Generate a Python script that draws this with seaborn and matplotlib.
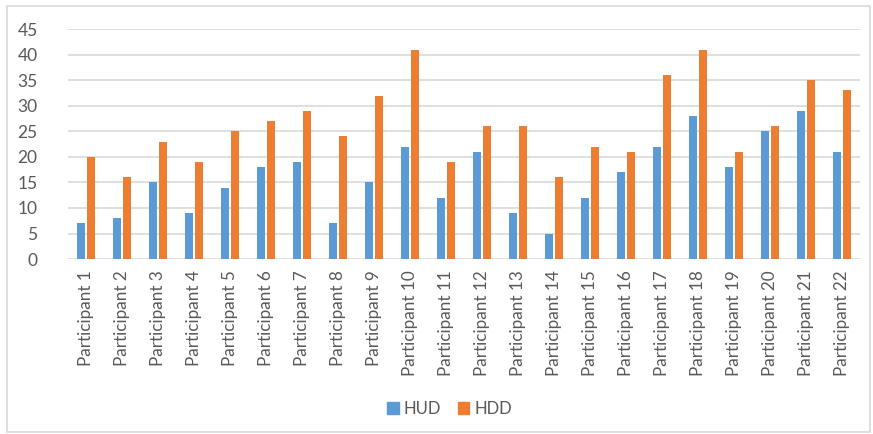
import matplotlib
matplotlib.use("Agg")
import matplotlib.pyplot as plt
import matplotlib.patches as mpatches
import seaborn as sns
import pandas as pd

participants = [f"Participant {i}" for i in range(1, 23)]
hud = [7, 8, 15, 9, 14, 18, 19, 7, 15, 22, 12, 21, 9, 5, 12, 17, 22, 28, 18, 25, 29, 21]
hdd = [20, 16, 23, 19, 25, 27, 29, 24, 32, 41, 19, 26, 26, 16, 22, 21, 36, 41, 21, 26, 35, 33]
series = ["HUD", "HDD"]
colors = {"HUD": "#5B9BD5", "HDD": "#ED7D31"}
y_ticks = list(range(0, 46, 5))

df = pd.DataFrame({
    "participant": participants * 2,
    "value": hud + hdd,
    "series": ["HUD"] * len(hud) + ["HDD"] * len(hdd),
})

sns.set_theme(style="white")
plt.rcParams["font.family"] = ["Lato", "DejaVu Sans"]

fig = plt.figure(figsize=(8.73, 4.34), dpi=100)
ax = fig.add_axes([0.078, 0.403, 0.907, 0.530])

sns.barplot(data=df, x="participant", y="value", hue="series",
            hue_order=series, palette=colors, saturation=1,
            width=0.55, gap=0.2, edgecolor="none", ax=ax, legend=False)

ax.set_ylim(0, 45)
ax.set_xlim(-0.5, len(participants) - 0.5)
ax.set_yticks(y_ticks)
ax.yaxis.grid(True, color="#D9D9D9", linewidth=1.2)
ax.set_axisbelow(True)
for s in ax.spines.values():
    s.set_visible(False)
ax.set_xlabel("")
ax.set_ylabel("")
ax.tick_params(axis="both", length=0, colors="#595959")
ax.tick_params(axis="y", pad=22, labelsize=12.5)
ax.tick_params(axis="x", pad=8, labelsize=12.3)
for lbl in ax.get_xticklabels():
    lbl.set_rotation(90)

handles = [mpatches.Patch(color=colors[s], label=s) for s in series]
fig.legend(handles=handles, loc="center", bbox_to_anchor=(0.515, 0.058),
           ncol=2, frameon=False, fontsize=12, handlelength=0.7,
           handleheight=0.7, handletextpad=0.3, columnspacing=1.0,
           labelcolor="#595959")

# light frame around the chart area
fig.patches.append(mpatches.Rectangle((0.008, 0.004), 0.988, 0.982,
                                      transform=fig.transFigure, fill=False,
                                      edgecolor="#D9D9D9", linewidth=1.2))

fig.savefig("out.png", dpi=100)
